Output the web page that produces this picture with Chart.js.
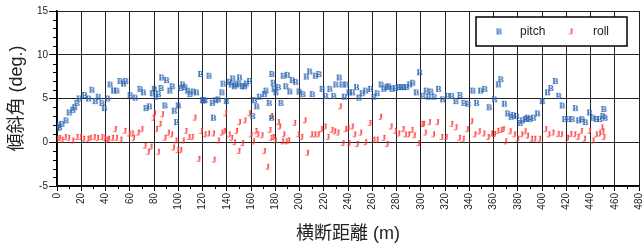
<!DOCTYPE html>
<html>
<head>
<meta charset="utf-8">
<script src="https://cdn.jsdelivr.net/npm/chart.js@4/dist/chart.umd.min.js"></script>
<style>
  html, body { margin: 0; padding: 0; background: #fff; }
  #wrap { width: 644px; height: 251px; }
</style>
</head>
<body>
<div id="wrap"><canvas id="grafico" width="644" height="251"></canvas></div>
<script>
// --- datos ---
const pitchX = [0, 1, 2, 4, 7.4, 10, 13, 14.5, 16.4, 18.4, 22.7, 26, 28.8, 31.5, 34, 37, 39, 41.6, 43.8, 46.6,
  49.3, 52, 54.8, 56.7, 60.3, 64.4, 68.5, 71.2, 73.4, 76.2, 78.6, 80.3, 81.4, 83.6, 85.8, 86.3, 89, 90.4, 93, 95,
  96.7, 98.6, 100, 102, 103.6, 105.5, 107.7, 109.6, 112.3, 115, 118.4, 120, 121, 122, 125.4, 128, 129, 131, 133, 136,
  137, 139.6, 142, 143.7, 145, 146.3, 147.8, 150, 150.5, 152.7, 154.6, 156, 158.7, 161.4, 162.8, 164.7, 166.9, 171, 172.3, 175,
  177, 177.2, 178.3, 179, 180.5, 182.5, 184.6, 186.5, 188.7, 190, 192, 194, 196.8, 199.6, 202.8, 205.6, 208.3, 210.5,
  213, 216, 218.7, 221.5, 225, 228.2, 230, 232.7, 235, 237, 238.5, 240.8, 243.6, 247, 249, 251.7, 254.5, 258.6,
  261.3, 264, 267.3, 269.5, 272.2, 273.6, 276.3, 279, 281.8, 283.7, 286, 288, 290.8, 293.4, 296.3, 299, 301.7, 304.5,
  306.4, 308.3, 311, 314.6, 318, 322, 325.5, 329, 332.3, 335.6, 339, 343, 346, 349.3, 352.8, 356.4, 360.8, 364,
  366, 369, 371.7, 374.5, 376.4, 379, 381.9, 383.8, 386.5, 388, 390, 392.8, 396.3, 400.2, 404.5, 407.3, 411, 413.8,
  416.6, 418.7, 421.5, 424.8, 427.5, 430.2, 433, 435.7, 439.2, 442, 444.7, 447.4, 450.2, 451, 452];
const pitchY = [1.6, 2.0, 1.7, 2.1, 2.5, 3.4, 3.7, 4.0, 4.5, 5.0, 5.4, 5.0, 6.0, 4.7, 5.2, 4.5, 3.9, 5.0, 6.6, 5.9,
  5.9, 7.0, 6.7, 7.0, 5.4, 5.1, 6.1, 5.7, 3.9, 4.1, 5.6, 6.1, 5.2, 5.5, 6.2, 7.4, 4.2, 7.1, 5.9, 6.4,
  3.6, 2.3, 4.2, 6.2, 6.6, 6.3, 5.9, 5.5, 5.8, 5.7, 7.8, 4.8, 4.8, 4.8, 7.6, 4.5, 2.8, 4.8, 4.9, 5.7,
  6.7, 4.7, 6.9, 6.6, 7.3, 6.4, 6.6, 6.7, 7.4, 6.4, 6.4, 6.7, 7.0, 3.0, 4.8, 4.1, 5.2, 5.5, 5.9, 4.5,
  2.8, 7.8, 6.8, 6.1, 5.7, 6.3, 4.5, 7.6, 6.4, 7.7, 5.8, 7.1, 6.9, 5.8, 5.5, 7.5, 8.1, 5.5,
  7.6, 7.8, 6.1, 5.3, 6.1, 5.3, 6.6, 7.4, 6.6, 5.2, 6.6, 5.7, 5.7, 6.3, 5.1, 5.6, 5.9, 6.1,
  5.2, 5.6, 6.6, 6.1, 6.3, 6.4, 6.1, 6.2, 6.3, 6.3, 6.3, 6.3, 6.6, 6.8, 5.7, 8.0, 5.3, 5.9,
  5.2, 5.8, 5.2, 6.1, 4.9, 5.3, 5.3, 4.7, 5.4, 4.5, 4.4, 5.9, 4.5, 5.9, 6.1, 4.0, 4.9, 6.6,
  7.2, 4.4, 3.3, 2.9, 3.1, 3.0, 2.2, 2.5, 2.65, 2.8, 2.65, 2.8, 3.3, 4.7, 5.7, 6.2, 7.0, 5.3,
  4.2, 2.65, 2.65, 2.65, 3.9, 2.5, 2.65, 2.3, 3.4, 2.8, 2.65, 2.65, 3.0, 3.8, 2.8];

const rollX = [0, 1.9, 4.1, 6.8, 9.6, 12.9, 16.4, 19.2, 21.9, 25.5, 27.4, 30.7, 33.4, 37, 39.2, 41.1, 42.5, 45.7, 48, 49,
  52.6, 56, 59.5, 62, 63, 67, 70, 72.6, 75.3, 77.5, 79.5, 80.3, 82, 83.6, 85, 87, 89, 91.8, 94.5, 96,
  98, 99.5, 102, 104, 106.3, 108.8, 111.5, 113.7, 117, 119, 122, 125, 129, 129.5, 133, 136, 138, 139, 142, 144,
  146.4, 148, 150, 150.5, 153, 155, 158.7, 160, 162, 164, 165.6, 169, 171, 173.7, 175.6, 176.5, 177, 178.3, 180, 182.5,
  183.6, 186, 187, 189, 191, 196, 199, 201.8, 204.5, 206.5, 210, 212.6, 215.4, 218, 221, 223.5, 226.8, 229, 231.7, 233.6,
  235.8, 238, 240, 240.8, 243.5, 245.5, 247.6, 250.4, 254.5, 258, 261.3, 264, 266.8, 269.5, 272.2, 275.5, 279, 281.8, 285.4, 287.3,
  290, 292.7, 294.6, 298.2, 301, 302.3, 303.7, 307.2, 310.5, 313.8, 317.3, 320.9, 325.5, 329, 331.8, 335, 338.4, 342, 344.6, 348.2,
  352, 355.6, 358.3, 360.8, 363.5, 366.3, 368, 370, 373.7, 377.2, 380, 383.2, 386, 388, 391.4, 394, 398, 403, 405.6, 409,
  413.3, 416, 421, 423.7, 427, 429.7, 432.4, 435, 439.2, 442, 444.7, 447.4, 449.3, 450.2, 451];
const rollY = [0.4, 0.5, 0.3, 0.6, 0.5, 0.2, 0.6, 0.6, 0.4, 0.4, 0.5, 0.6, 0.5, 0.6, 0.5, 0.3, 0.4, 0.5, 1.5, 0.5,
  0.3, 1.3, 1.0, 1.0, 0.5, 1.1, 1.5, -0.4, -1.1, -0.5, 2.8, 3.3, 1.5, -1.1, 2.1, 3.2, 0.5, 1.1, 0.9, -0.6,
  0.2, -0.9, -0.9, 0.2, 1.3, 0.6, 0.6, 2.8, -1.9, 1.3, 0.9, 1.0, 1.0, -2.0, 0.2, 1.1, 1.3, 3.3, 0.9, 0.5,
  0.0, 1.3, -1.0, 2.3, -0.1, 2.5, 3.3, 0.9, 0.1, 1.3, 0.9, 0.8, -1.0, -2.8, 1.4, 0.5, 3.0, 0.6, 0.2, 2.3,
  1.8, 0.1, 0.9, 0.1, 0.2, 2.2, 0.9, 0.6, 2.5, -1.2, 0.9, 0.9, 0.9, 1.5, 1.8, 0.6, 1.4, 1.25, 1.1, 4.1,
  -0.1, 1.5, 1.6, -0.1, 1.8, 0.9, -0.2, 1.1, 0.0, 2.2, 0.3, 0.3, 2.9, 0.5, -0.2, 1.8, 1.3, 1.0, 1.5, 0.9,
  0.9, 1.4, 0.8, -0.1, 2.1, 2.1, 1.1, 2.3, 0.9, 2.3, 0.6, 0.6, 2.1, 1.7, 0.5, 0.4, 1.5, 2.4, 0.9, 1.25,
  1.0, 0.6, 1.0, 0.95, 1.3, 1.4, 1.5, 0.1, 1.25, 0.9, 0.4, 0.9, 1.25, 0.75, 0.4, 0.4, 0.4, 1.5, 0.9, 1.1,
  0.95, 0.9, 0.5, 0.95, 0.9, 0.6, 1.3, 0.4, 1.3, 0.2, 0.9, 1.0, 1.7, 1.25, 0.6];

const etiquetas = ['pitch', 'roll'];
const colorPitch = '#2a64b2';
const colorRoll = '#ff2e2e';

/**
 * Crea un marcador de texto (letra) para usar como pointStyle
 */
function crearMarcador(letra, color) {
    const c = document.createElement('canvas');
    c.width = 9;
    c.height = 10;
    const ctx = c.getContext('2d');
    ctx.fillStyle = color;
    ctx.font = 'bold 9px "Liberation Serif"';
    ctx.textAlign = 'center';
    ctx.textBaseline = 'middle';
    ctx.fillText(letra, 4.5, 5.5);
    return c;
}

const marcaPitch = crearMarcador('B', colorPitch);
const marcaRoll = crearMarcador('J', colorRoll);

const puntos = (xs, ys) => xs.map((x, i) => ({ x: x, y: ys[i] }));

// Marcas menores de los ejes
const ticksMenores = {
    id: 'ticksMenores',
    afterDraw(chart) {
        const { ctx, chartArea } = chart;
        const sx = chart.scales.x;
        const sy = chart.scales.y;
        ctx.save();
        ctx.strokeStyle = '#000';
        ctx.lineWidth = 1;
        ctx.beginPath();
        for (let v = -5; v <= 15; v++) {
            if (v % 5 === 0) continue;
            const py = Math.round(sy.getPixelForValue(v)) + 0.5;
            ctx.moveTo(chartArea.left - 4, py);
            ctx.lineTo(chartArea.left, py);
        }
        for (let v = 10; v < 480; v += 20) {
            const px = Math.round(sx.getPixelForValue(v)) + 0.5;
            ctx.moveTo(px, chartArea.bottom);
            ctx.lineTo(px, chartArea.bottom + 3);
        }
        ctx.stroke();
        ctx.restore();
    }
};

// Leyenda con recuadro dentro del área del gráfico
const leyendaCaja = {
    id: 'leyendaCaja',
    afterDraw(chart) {
        const { ctx } = chart;
        ctx.save();
        ctx.fillStyle = '#fff';
        ctx.fillRect(476, 17, 151, 29);
        ctx.strokeStyle = '#000';
        ctx.lineWidth = 1.5;
        ctx.strokeRect(476, 17, 151, 29);
        ctx.drawImage(marcaPitch, 499 - 4.5, 32 - 5.5);
        ctx.drawImage(marcaRoll, 571 - 4.5, 32 - 5.5);
        ctx.fillStyle = '#222';
        ctx.font = '12px "Liberation Sans", Arial, sans-serif';
        ctx.textBaseline = 'middle';
        ctx.fillText(etiquetas[0], 520, 32);
        ctx.fillText(etiquetas[1], 593, 32);
        ctx.restore();
    }
};

const fuenteTick = { family: '"Liberation Sans", Arial, sans-serif', size: 10 };
const fuenteTitulo = { family: '"Liberation Sans", "Noto Sans CJK JP", sans-serif', size: 18 };

new Chart(document.getElementById('grafico'), {
    type: 'scatter',
    data: {
        datasets: [
            {
                label: etiquetas[0],
                data: puntos(pitchX, pitchY),
                pointStyle: marcaPitch,
                pointRadius: 4
            },
            {
                label: etiquetas[1],
                data: puntos(rollX, rollY),
                pointStyle: marcaRoll,
                pointRadius: 4
            }
        ]
    },
    options: {
        responsive: false,
        animation: false,
        layout: { padding: { top: 11, right: 3, bottom: 0, left: 0 } },
        scales: {
            x: {
                type: 'linear',
                min: 0,
                max: 480,
                afterFit: (s) => { s.height = 65; s.paddingLeft = 0; s.paddingRight = 0; },
                ticks: {
                    stepSize: 20,
                    autoSkip: false,
                    minRotation: 90,
                    maxRotation: 90,
                    padding: 2,
                    color: '#222',
                    font: fuenteTick
                },
                grid: { color: '#222', lineWidth: 1, tickLength: 5, tickColor: '#000' },
                border: { color: '#000', width: 1.5 },
                title: {
                    display: true,
                    text: '横断距離 (m)',
                    color: '#222',
                    font: fuenteTitulo,
                    padding: { top: 0, bottom: 6 }
                }
            },
            y: {
                min: -5,
                max: 15,
                afterFit: (s) => { s.width = 57; s.paddingTop = 0; s.paddingBottom = 0; },
                ticks: {
                    stepSize: 5,
                    padding: 1,
                    color: '#222',
                    font: fuenteTick
                },
                grid: { color: '#222', lineWidth: 1, tickLength: 8, tickColor: '#000' },
                border: { color: '#000', width: 1.5 },
                title: {
                    display: true,
                    text: '傾斜角 (deg.)',
                    color: '#222',
                    font: fuenteTitulo,
                    padding: { top: 6, bottom: 0 }
                }
            }
        },
        plugins: {
            legend: { display: false },
            tooltip: { enabled: false }
        }
    },
    plugins: [ticksMenores, leyendaCaja]
});
</script>
</body>
</html>
